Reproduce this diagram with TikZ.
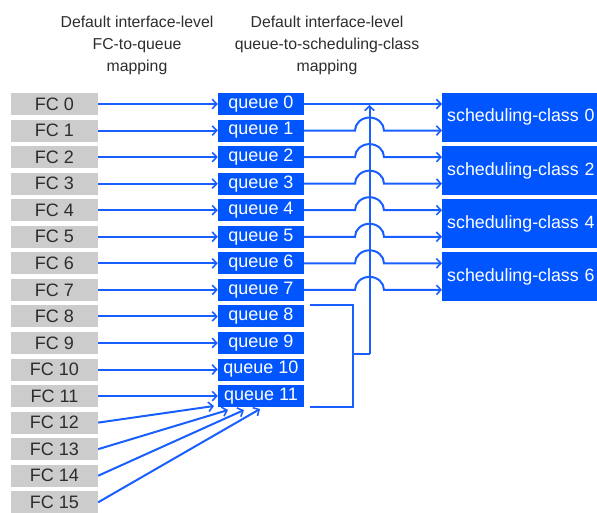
\documentclass[tikz,border=0pt]{standalone}
\usepackage{fontspec}
\setmainfont{Liberation Sans}
\usetikzlibrary{arrows.meta}
\definecolor{qblue}{RGB}{0,85,255}
\definecolor{lblue}{RGB}{25,95,255}
\definecolor{fcgray}{RGB}{204,204,204}
\definecolor{txtgray}{RGB}{45,45,45}
\begin{document}
\begin{tikzpicture}[x=1pt,y=-1pt,
  lbl/.style={font=\fontsize{18}{20}\selectfont},
  fcbox/.style={lbl, fill=fcgray, minimum width=87pt, minimum height=22pt, inner sep=0pt, text=txtgray},
  qbox/.style={lbl, fill=qblue, minimum width=86pt, minimum height=22pt, inner sep=0pt, text=white},
  scbox/.style={font=\fontsize{17.8}{20}\selectfont, fill=qblue, text=white, anchor=west, minimum width=155pt, text width=150pt, minimum height=48.5pt, inner xsep=5pt, inner ysep=0pt, align=left},
  title/.style={font=\fontsize{15.8}{22}\selectfont, text=txtgray, align=center},
  line/.style={draw=lblue, line width=2pt},
  link/.style={line, -{Straight Barb[length=4.5pt,width=9.5pt,line width=1.6pt]}}
]
\useasboundingbox (0,0) rectangle (597,512);
\clip (0,0) rectangle (597,512);

\node[title] (t1) at (137,45) {Default interface-level\\FC-to-queue\\mapping};
\node[title] (t2) at (327,45) {Default interface-level\\queue-to-scheduling-class\\mapping};

\foreach \i in {0,...,15}
  \node[fcbox] (fc\i) at (54.5,{104+26.55*\i}) {FC \i};
\foreach \i in {0,...,11}
  \node[qbox] (q\i) at (261,{104+26.55*\i}) {queue \i};

\node[scbox] (sc0) at (442,117.3) {scheduling-class 0};
\node[scbox] (sc2) at (442,{117.3+53.1}) {scheduling-class 2};
\node[scbox] (sc4) at (442,{117.3+2*53.1}) {scheduling-class 4};
\node[scbox] (sc6) at (442,{117.3+3*53.1}) {scheduling-class 6};

% FC -> queue
\foreach \i in {0,...,11}
  \draw[link] (fc\i.east) -- (q\i.west);
\coordinate (t12) at (214,406);
\coordinate (t13) at (228,410);
\coordinate (t14) at (244,410);
\coordinate (t15) at (260,409);
\foreach \i in {12,...,15}
  \draw[link] (fc\i.east) -- (t\i);

% queue -> scheduling class
\coordinate (hopL) at (355,0);
\coordinate (bx) at (353,0);
\coordinate (vx) at (369.5,0);
\draw[link] (q0.east) -- (sc0.west |- q0.east);
\foreach \i/\s in {1/sc0,2/sc2,3/sc2,4/sc4,5/sc4,6/sc6,7/sc6}
  \draw[link] (q\i.east) -- (hopL |- q\i.east) arc[start angle=180,end angle=0,x radius=14.5pt,y radius=13pt] -- (\s.west |- q\i.east);

% queues 8-11 -> queue 0 path
\draw[line] ([xshift=6pt]q8.north east) -- (bx |- q8.north east) -- (bx |- q11.south east) -- ([xshift=6pt]q11.south east);
\coordinate (j) at (353,354);
\draw[line] (j) -- (vx |- j);
\draw[link] (vx |- j) -- ([yshift=-1pt]vx |- q0.east);
\end{tikzpicture}
\end{document}
